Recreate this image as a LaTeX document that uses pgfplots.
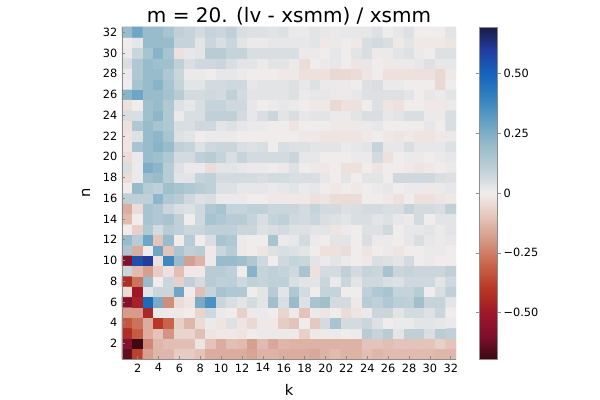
\documentclass[border=0pt]{standalone}
\usepackage{fontspec}
\setmainfont{DejaVu Sans}
\usepackage{pgfplots}
\pgfplotsset{compat=1.18}
\newcommand{\cbl}[1]{\makebox[22pt][l]{#1}}
\begin{document}
\begin{tikzpicture}
\useasboundingbox (0,0) rectangle (450pt,300pt);
\begin{axis}[
  scale only axis, width=250.5pt, height=249pt,
  at={(91.5pt,30.75pt)}, anchor=south west,
  xmin=0.5, xmax=32.5, ymin=0.5, ymax=32.5,
  xtick={2,4,...,32}, ytick={2,4,...,32},
  axis x line*=bottom, axis y line*=left,
  axis line style={black!45, line width=0.6pt},
  tick style={black!45, line width=0.5pt},
  tick align=inside, major tick length=2.5pt,
  ticklabel style={font=\fontsize{8.5}{10}\selectfont, text=black},
  /pgf/number format/assume math mode=true,
  xlabel={k}, ylabel={n},
  label style={font=\fontsize{11}{13}\selectfont},
  xlabel style={at={(axis description cs:0.5,-0.0934)}, anchor=center},
  ylabel style={at={(axis description cs:-0.108,0.5)}, anchor=center},
  title={m = 20. (lv - xsmm) / xsmm},
  title style={font=\fontsize{15}{18}\selectfont, at={(axis description cs:0.5,1)}, anchor=south, inner sep=0pt, yshift=-5pt},
  colormap={bal}{
    rgb255(0)=(60,9,18)
    rgb255(95)=(125,14,45)
    rgb255(195)=(160,24,40)
    rgb255(295)=(184,56,36)
    rgb255(395)=(200,100,75)
    rgb255(495)=(212,150,132)
    rgb255(595)=(228,196,186)
    rgb255(695)=(241,236,236)
    rgb255(795)=(192,208,216)
    rgb255(895)=(152,188,203)
    rgb255(995)=(100,160,196)
    rgb255(1095)=(50,130,192)
    rgb255(1195)=(20,100,190)
    rgb255(1295)=(34,60,160)
    rgb255(1390)=(24,28,67)
  },
  point meta min=-0.695, point meta max=0.695,
  colorbar,
  colorbar style={
    at={(parent axis.north east)}, anchor=north west, xshift=9pt,
    width=13.5pt,
    ytick={-0.5,-0.25,0,0.25,0.5},
    yticklabels={\cbl{−0.50},\cbl{−0.25},\cbl{0},\cbl{0.25},\cbl{0.50}},
    yticklabel style={font=\fontsize{8.5}{10}\selectfont, anchor=west, inner sep=2pt},
    tick align=outside, major tick length=2.5pt,
    tick style={black!45},
    axis line style={black!45, line width=0.5pt},
  },
  axis on top,
]
\addplot[matrix plot*, mesh/cols=32, point meta=explicit] table[row sep=\\, meta=c] {
x y c\\
1 1 -.64\\2 1 -.38\\3 1 -.18\\4 1 -.13\\5 1 -.13\\6 1 -.08\\7 1 -.08\\8 1 -.10\\9 1 -.15\\10 1 -.15\\11 1 -.15\\12 1 -.15\\13 1 -.17\\14 1 -.14\\15 1 -.14\\16 1 -.15\\17 1 -.15\\18 1 -.15\\19 1 -.16\\20 1 -.14\\21 1 -.12\\22 1 -.14\\23 1 -.14\\24 1 -.11\\25 1 -.13\\26 1 -.12\\27 1 -.12\\28 1 -.12\\29 1 -.12\\30 1 -.12\\31 1 -.13\\32 1 -.13\\
1 2 -.58\\2 2 -.69\\3 2 -.23\\4 2 -.13\\5 2 -.11\\6 2 -.11\\7 2 -.11\\8 2 -.02\\9 2 -.10\\10 2 -.15\\11 2 -.11\\12 2 -.12\\13 2 -.18\\14 2 -.12\\15 2 -.16\\16 2 -.13\\17 2 -.14\\18 2 -.14\\19 2 -.14\\20 2 -.14\\21 2 -.14\\22 2 -.14\\23 2 -.14\\24 2 -.10\\25 2 -.10\\26 2 -.11\\27 2 -.10\\28 2 -.10\\29 2 -.10\\30 2 -.10\\31 2 -.07\\32 2 -.10\\
1 3 -.43\\2 3 -.32\\3 3 -.15\\4 3 -.10\\5 3 -.20\\6 3 -.06\\7 3 -.06\\8 3 -.11\\9 3 -.02\\10 3 -.01\\11 3 -.01\\12 3 -.02\\13 3 0\\14 3 .01\\15 3 .01\\16 3 .01\\17 3 .01\\18 3 -.07\\19 3 .01\\20 3 .01\\21 3 .01\\22 3 0\\23 3 .01\\24 3 .12\\25 3 .09\\26 3 .12\\27 3 .03\\28 3 .10\\29 3 .10\\30 3 .05\\31 3 .12\\32 3 .10\\
1 4 -.33\\2 4 -.27\\3 4 -.15\\4 4 -.40\\5 4 -.30\\6 4 -.07\\7 4 -.13\\8 4 -.04\\9 4 .01\\10 4 -.02\\11 4 .04\\12 4 -.02\\13 4 -.05\\14 4 -.01\\15 4 -.01\\16 4 -.08\\17 4 -.10\\18 4 0\\19 4 -.09\\20 4 .06\\21 4 .16\\22 4 .06\\23 4 .06\\24 4 .08\\25 4 .04\\26 4 0\\27 4 .01\\28 4 .01\\29 4 .03\\30 4 .03\\31 4 .02\\32 4 .01\\
1 5 -.19\\2 5 -.19\\3 5 -.45\\4 5 .01\\5 5 .01\\6 5 -.01\\7 5 0\\8 5 -.06\\9 5 .07\\10 5 .01\\11 5 0\\12 5 -.07\\13 5 .01\\14 5 .01\\15 5 0\\16 5 -.06\\17 5 .01\\18 5 -.10\\19 5 .01\\20 5 -.02\\21 5 0\\22 5 -.04\\23 5 -.02\\24 5 .01\\25 5 .08\\26 5 .08\\27 5 .03\\28 5 .06\\29 5 .06\\30 5 .04\\31 5 .08\\32 5 0\\
1 6 -.58\\2 6 -.47\\3 6 .48\\4 6 .26\\5 6 -.22\\6 6 -.04\\7 6 -.02\\8 6 .26\\9 6 .35\\10 6 .08\\11 6 .05\\12 6 .03\\13 6 .06\\14 6 .03\\15 6 .18\\16 6 .05\\17 6 .20\\18 6 .04\\19 6 .16\\20 6 .18\\21 6 .06\\22 6 .06\\23 6 -.01\\24 6 .12\\25 6 .10\\26 6 .14\\27 6 .11\\28 6 .10\\29 6 .18\\30 6 .09\\31 6 .09\\32 6 .03\\
1 7 -.04\\2 7 -.50\\3 7 .03\\4 7 .08\\5 7 .08\\6 7 .28\\7 7 0\\8 7 -.11\\9 7 .09\\10 7 .16\\11 7 .14\\12 7 .14\\13 7 0\\14 7 .03\\15 7 .12\\16 7 .03\\17 7 .14\\18 7 .06\\19 7 0\\20 7 .09\\21 7 .09\\22 7 0\\23 7 0\\24 7 .10\\25 7 .14\\26 7 .16\\27 7 .09\\28 7 .09\\29 7 .12\\30 7 0\\31 7 .05\\32 7 .10\\
1 8 -.43\\2 8 -.27\\3 8 .20\\4 8 0\\5 8 .08\\6 8 -.07\\7 8 .10\\8 8 .06\\9 8 .12\\10 8 .10\\11 8 .11\\12 8 .07\\13 8 .10\\14 8 .09\\15 8 .10\\16 8 .10\\17 8 .05\\18 8 .03\\19 8 .03\\20 8 .08\\21 8 .01\\22 8 .08\\23 8 .03\\24 8 .07\\25 8 .07\\26 8 .05\\27 8 .04\\28 8 .07\\29 8 .07\\30 8 .07\\31 8 .03\\32 8 .07\\
1 9 .08\\2 9 -.12\\3 9 -.18\\4 9 -.08\\5 9 -.03\\6 9 -.11\\7 9 -.01\\8 9 -.01\\9 9 .12\\10 9 .12\\11 9 .10\\12 9 0\\13 9 .23\\14 9 .09\\15 9 .10\\16 9 .09\\17 9 .07\\18 9 .16\\19 9 -.03\\20 9 .06\\21 9 .06\\22 9 .10\\23 9 .06\\24 9 .09\\25 9 .08\\26 9 .16\\27 9 .08\\28 9 .09\\29 9 .08\\30 9 .08\\31 9 .08\\32 9 .10\\
1 10 -.58\\2 10 .55\\3 10 .60\\4 10 -.03\\5 10 .38\\6 10 .20\\7 10 -.18\\8 10 -.14\\9 10 .01\\10 10 .20\\11 10 .20\\12 10 .18\\13 10 .14\\14 10 .07\\15 10 0\\16 10 .07\\17 10 .09\\18 10 .08\\19 10 .03\\20 10 .01\\21 10 .03\\22 10 .01\\23 10 0\\24 10 -.01\\25 10 .05\\26 10 .04\\27 10 .03\\28 10 .06\\29 10 0\\30 10 .01\\31 10 0\\32 10 0\\
1 11 .15\\2 11 -.15\\3 11 0\\4 11 .28\\5 11 -.10\\6 11 .15\\7 11 .10\\8 11 .12\\9 11 -.01\\10 11 .08\\11 11 .12\\12 11 .01\\13 11 0\\14 11 -.02\\15 11 .04\\16 11 .05\\17 11 .04\\18 11 .03\\19 11 0\\20 11 -.03\\21 11 -.03\\22 11 -.04\\23 11 0\\24 11 -.02\\25 11 0\\26 11 .01\\27 11 -.02\\28 11 0\\29 11 0\\30 11 .01\\31 11 .01\\32 11 0\\
1 12 .20\\2 12 .12\\3 12 .28\\4 12 -.10\\5 12 .20\\6 12 0\\7 12 .12\\8 12 0\\9 12 .05\\10 12 .16\\11 12 .14\\12 12 .01\\13 12 0\\14 12 0\\15 12 .16\\16 12 .01\\17 12 .02\\18 12 .06\\19 12 .01\\20 12 0\\21 12 .03\\22 12 .03\\23 12 0\\24 12 .05\\25 12 .01\\26 12 .01\\27 12 0\\28 12 .02\\29 12 .05\\30 12 .02\\31 12 .01\\32 12 .02\\
1 13 0\\2 13 -.07\\3 13 .14\\4 13 .06\\5 13 .12\\6 13 .10\\7 13 .08\\8 13 .08\\9 13 .10\\10 13 .10\\11 13 .10\\12 13 .08\\13 13 .08\\14 13 .04\\15 13 .05\\16 13 .06\\17 13 .04\\18 13 .04\\19 13 .03\\20 13 .03\\21 13 -.02\\22 13 .01\\23 13 0\\24 13 .04\\25 13 .04\\26 13 .07\\27 13 0\\28 13 .02\\29 13 .02\\30 13 .03\\31 13 .01\\32 13 .03\\
1 14 -.12\\2 14 0\\3 14 .16\\4 14 .14\\5 14 .16\\6 14 .10\\7 14 0\\8 14 .07\\9 14 .16\\10 14 .14\\11 14 .12\\12 14 .12\\13 14 .09\\14 14 .05\\15 14 .09\\16 14 .10\\17 14 .07\\18 14 .06\\19 14 .08\\20 14 .05\\21 14 .04\\22 14 .03\\23 14 .05\\24 14 .05\\25 14 .03\\26 14 .04\\27 14 .02\\28 14 .01\\29 14 .06\\30 14 0\\31 14 .03\\32 14 .03\\
1 15 -.15\\2 15 -.04\\3 15 .16\\4 15 .14\\5 15 .08\\6 15 .05\\7 15 .04\\8 15 .07\\9 15 .14\\10 15 .16\\11 15 .09\\12 15 .09\\13 15 .10\\14 15 .10\\15 15 .08\\16 15 .08\\17 15 .08\\18 15 .06\\19 15 .09\\20 15 .06\\21 15 .06\\22 15 .04\\23 15 .05\\24 15 .06\\25 15 .06\\26 15 .05\\27 15 .05\\28 15 .09\\29 15 .06\\30 15 .06\\31 15 .05\\32 15 .10\\
1 16 .10\\2 16 .10\\3 16 .10\\4 16 .22\\5 16 .14\\6 16 .12\\7 16 .07\\8 16 .04\\9 16 .05\\10 16 .01\\11 16 .01\\12 16 .01\\13 16 0\\14 16 0\\15 16 -.01\\16 16 -.01\\17 16 -.01\\18 16 -.01\\19 16 -.03\\20 16 -.02\\21 16 -.04\\22 16 -.04\\23 16 -.04\\24 16 0\\25 16 0\\26 16 -.01\\27 16 -.03\\28 16 0\\29 16 -.03\\30 16 -.03\\31 16 -.02\\32 16 -.01\\
1 17 0\\2 17 .20\\3 17 .12\\4 17 .10\\5 17 .18\\6 17 .16\\7 17 .14\\8 17 .12\\9 17 .10\\10 17 .04\\11 17 .04\\12 17 .02\\13 17 .02\\14 17 .02\\15 17 .01\\16 17 .02\\17 17 .03\\18 17 .01\\19 17 .02\\20 17 0\\21 17 -.01\\22 17 0\\23 17 -.01\\24 17 0\\25 17 .01\\26 17 .02\\27 17 0\\28 17 .01\\29 17 .01\\30 17 -.01\\31 17 .01\\32 17 .02\\
1 18 -.04\\2 18 .01\\3 18 .18\\4 18 .20\\5 18 .12\\6 18 .03\\7 18 .03\\8 18 .09\\9 18 .10\\10 18 .06\\11 18 .06\\12 18 .06\\13 18 .06\\14 18 .05\\15 18 .06\\16 18 .06\\17 18 .05\\18 18 .05\\19 18 .05\\20 18 .02\\21 18 0\\22 18 .03\\23 18 0\\24 18 .03\\25 18 .03\\26 18 0\\27 18 .07\\28 18 .07\\29 18 .07\\30 18 .07\\31 18 .05\\32 18 .04\\
1 19 .05\\2 19 .01\\3 19 .25\\4 19 .22\\5 19 .12\\6 19 .04\\7 19 .01\\8 19 .01\\9 19 -.04\\10 19 .03\\11 19 .03\\12 19 .02\\13 19 .01\\14 19 .01\\15 19 0\\16 19 .01\\17 19 .04\\18 19 0\\19 19 -.01\\20 19 -.01\\21 19 0\\22 19 -.03\\23 19 -.03\\24 19 0\\25 19 -.02\\26 19 0\\27 19 0\\28 19 -.01\\29 19 -.02\\30 19 -.01\\31 19 0\\32 19 .01\\
1 20 -.04\\2 20 .01\\3 20 .20\\4 20 .18\\5 20 .14\\6 20 .06\\7 20 .06\\8 20 .10\\9 20 .12\\10 20 .09\\11 20 .05\\12 20 .09\\13 20 .06\\14 20 .06\\15 20 .06\\16 20 .06\\17 20 .08\\18 20 .02\\19 20 .02\\20 20 0\\21 20 0\\22 20 0\\23 20 .01\\24 20 .01\\25 20 .06\\26 20 -.03\\27 20 0\\28 20 .01\\29 20 .01\\30 20 0\\31 20 .01\\32 20 .02\\
1 21 -.02\\2 21 .16\\3 21 .20\\4 21 .23\\5 21 .20\\6 21 .10\\7 21 .09\\8 21 .04\\9 21 .07\\10 21 .08\\11 21 .08\\12 21 .05\\13 21 .04\\14 21 .05\\15 21 0\\16 21 .05\\17 21 .04\\18 21 .04\\19 21 .03\\20 21 .03\\21 21 .03\\22 21 .01\\23 21 .02\\24 21 .03\\25 21 .09\\26 21 .02\\27 21 .02\\28 21 .05\\29 21 .02\\30 21 .02\\31 21 .02\\32 21 .04\\
1 22 -.02\\2 22 .04\\3 22 .20\\4 22 .22\\5 22 .16\\6 22 .04\\7 22 .03\\8 22 0\\9 22 .01\\10 22 .01\\11 22 .01\\12 22 0\\13 22 0\\14 22 0\\15 22 0\\16 22 0\\17 22 0\\18 22 -.01\\19 22 -.01\\20 22 -.02\\21 22 -.02\\22 22 -.02\\23 22 -.02\\24 22 -.01\\25 22 0\\26 22 -.01\\27 22 -.02\\28 22 -.01\\29 22 -.02\\30 22 -.02\\31 22 -.01\\32 22 .01\\
1 23 -.03\\2 23 .14\\3 23 .20\\4 23 .16\\5 23 .14\\6 23 .05\\7 23 .05\\8 23 .07\\9 23 .07\\10 23 .03\\11 23 .04\\12 23 .02\\13 23 .01\\14 23 .01\\15 23 0\\16 23 0\\17 23 -.02\\18 23 0\\19 23 0\\20 23 0\\21 23 -.01\\22 23 -.01\\23 23 -.01\\24 23 .01\\25 23 .02\\26 23 0\\27 23 0\\28 23 0\\29 23 0\\30 23 .02\\31 23 0\\32 23 .05\\
1 24 .05\\2 24 .05\\3 24 .18\\4 24 .22\\5 24 .14\\6 24 .01\\7 24 .05\\8 24 .05\\9 24 .10\\10 24 .10\\11 24 .10\\12 24 .06\\13 24 .02\\14 24 .05\\15 24 .08\\16 24 .03\\17 24 .05\\18 24 .02\\19 24 .03\\20 24 .03\\21 24 .01\\22 24 .01\\23 24 .03\\24 24 .05\\25 24 .05\\26 24 .02\\27 24 .03\\28 24 .05\\29 24 .05\\30 24 .01\\31 24 .01\\32 24 .05\\
1 25 -.03\\2 25 0\\3 25 .18\\4 25 .20\\5 25 .14\\6 25 .04\\7 25 .02\\8 25 .05\\9 25 .09\\10 25 .09\\11 25 .07\\12 25 .07\\13 25 .02\\14 25 0\\15 25 .01\\16 25 .02\\17 25 .01\\18 25 0\\19 25 -.01\\20 25 -.01\\21 25 -.05\\22 25 -.03\\23 25 -.03\\24 25 0\\25 25 .04\\26 25 -.02\\27 25 -.03\\28 25 0\\29 25 0\\30 25 -.01\\31 25 -.01\\32 25 .01\\
1 26 .23\\2 26 .28\\3 26 .20\\4 26 .20\\5 26 .17\\6 26 .12\\7 26 .06\\8 26 .06\\9 26 .07\\10 26 .06\\11 26 .10\\12 26 .06\\13 26 .03\\14 26 .03\\15 26 .03\\16 26 .03\\17 26 .04\\18 26 .01\\19 26 .02\\20 26 .02\\21 26 .01\\22 26 .01\\23 26 .02\\24 26 .04\\25 26 .04\\26 26 .04\\27 26 .04\\28 26 .03\\29 26 0\\30 26 .02\\31 26 .01\\32 26 .03\\
1 27 0\\2 27 .16\\3 27 .20\\4 27 .23\\5 27 .16\\6 27 .09\\7 27 .03\\8 27 .03\\9 27 .06\\10 27 .06\\11 27 .07\\12 27 .07\\13 27 .02\\14 27 .03\\15 27 .03\\16 27 .03\\17 27 .04\\18 27 .02\\19 27 .04\\20 27 .01\\21 27 .01\\22 27 .01\\23 27 0\\24 27 .04\\25 27 .05\\26 27 .01\\27 27 .01\\28 27 0\\29 27 0\\30 27 0\\31 27 -.05\\32 27 0\\
1 28 .01\\2 28 .14\\3 28 .20\\4 28 .20\\5 28 .14\\6 28 .08\\7 28 .01\\8 28 .01\\9 28 0\\10 28 .02\\11 28 .02\\12 28 .01\\13 28 0\\14 28 0\\15 28 0\\16 28 -.01\\17 28 -.01\\18 28 -.03\\19 28 -.03\\20 28 -.03\\21 28 -.05\\22 28 -.05\\23 28 -.04\\24 28 -.02\\25 28 0\\26 28 -.03\\27 28 -.03\\28 28 -.03\\29 28 -.03\\30 28 -.03\\31 28 -.05\\32 28 -.01\\
1 29 .05\\2 29 .14\\3 29 .20\\4 29 .18\\5 29 .18\\6 29 .10\\7 29 .05\\8 29 .07\\9 29 .07\\10 29 .08\\11 29 .05\\12 29 .03\\13 29 .03\\14 29 .01\\15 29 .03\\16 29 .03\\17 29 .01\\18 29 -.04\\19 29 0\\20 29 .01\\21 29 .02\\22 29 0\\23 29 -.02\\24 29 .02\\25 29 0\\26 29 -.01\\27 29 .01\\28 29 .01\\29 29 .02\\30 29 .04\\31 29 .02\\32 29 .02\\
1 30 .01\\2 30 .08\\3 30 .16\\4 30 .23\\5 30 .16\\6 30 -.03\\7 30 .02\\8 30 .03\\9 30 .12\\10 30 .12\\11 30 .09\\12 30 .09\\13 30 .05\\14 30 .05\\15 30 .05\\16 30 .05\\17 30 .05\\18 30 .01\\19 30 .01\\20 30 0\\21 30 .02\\22 30 0\\23 30 .03\\24 30 .05\\25 30 .01\\26 30 .01\\27 30 .03\\28 30 .04\\29 30 .01\\30 30 0\\31 30 .04\\32 30 .04\\
1 31 0\\2 31 .02\\3 31 .20\\4 31 .20\\5 31 .20\\6 31 .09\\7 31 .09\\8 31 .03\\9 31 .08\\10 31 .05\\11 31 .08\\12 31 .03\\13 31 .01\\14 31 .01\\15 31 .02\\16 31 .02\\17 31 .02\\18 31 .02\\19 31 .03\\20 31 -.01\\21 31 .01\\22 31 0\\23 31 -.01\\24 31 .05\\25 31 .06\\26 31 .05\\27 31 -.01\\28 31 .03\\29 31 -.01\\30 31 -.01\\31 31 -.01\\32 31 -.02\\
1 32 .20\\2 32 .28\\3 32 .20\\4 32 .20\\5 32 .16\\6 32 .10\\7 32 .09\\8 32 .06\\9 32 .09\\10 32 .08\\11 32 .10\\12 32 .05\\13 32 .04\\14 32 .04\\15 32 .03\\16 32 .04\\17 32 .01\\18 32 .01\\19 32 .03\\20 32 .02\\21 32 .01\\22 32 .02\\23 32 .02\\24 32 .02\\25 32 .04\\26 32 0\\27 32 .02\\28 32 .04\\29 32 0\\30 32 0\\31 32 0\\32 32 .03\\
};
\end{axis}
\end{tikzpicture}
\end{document}
